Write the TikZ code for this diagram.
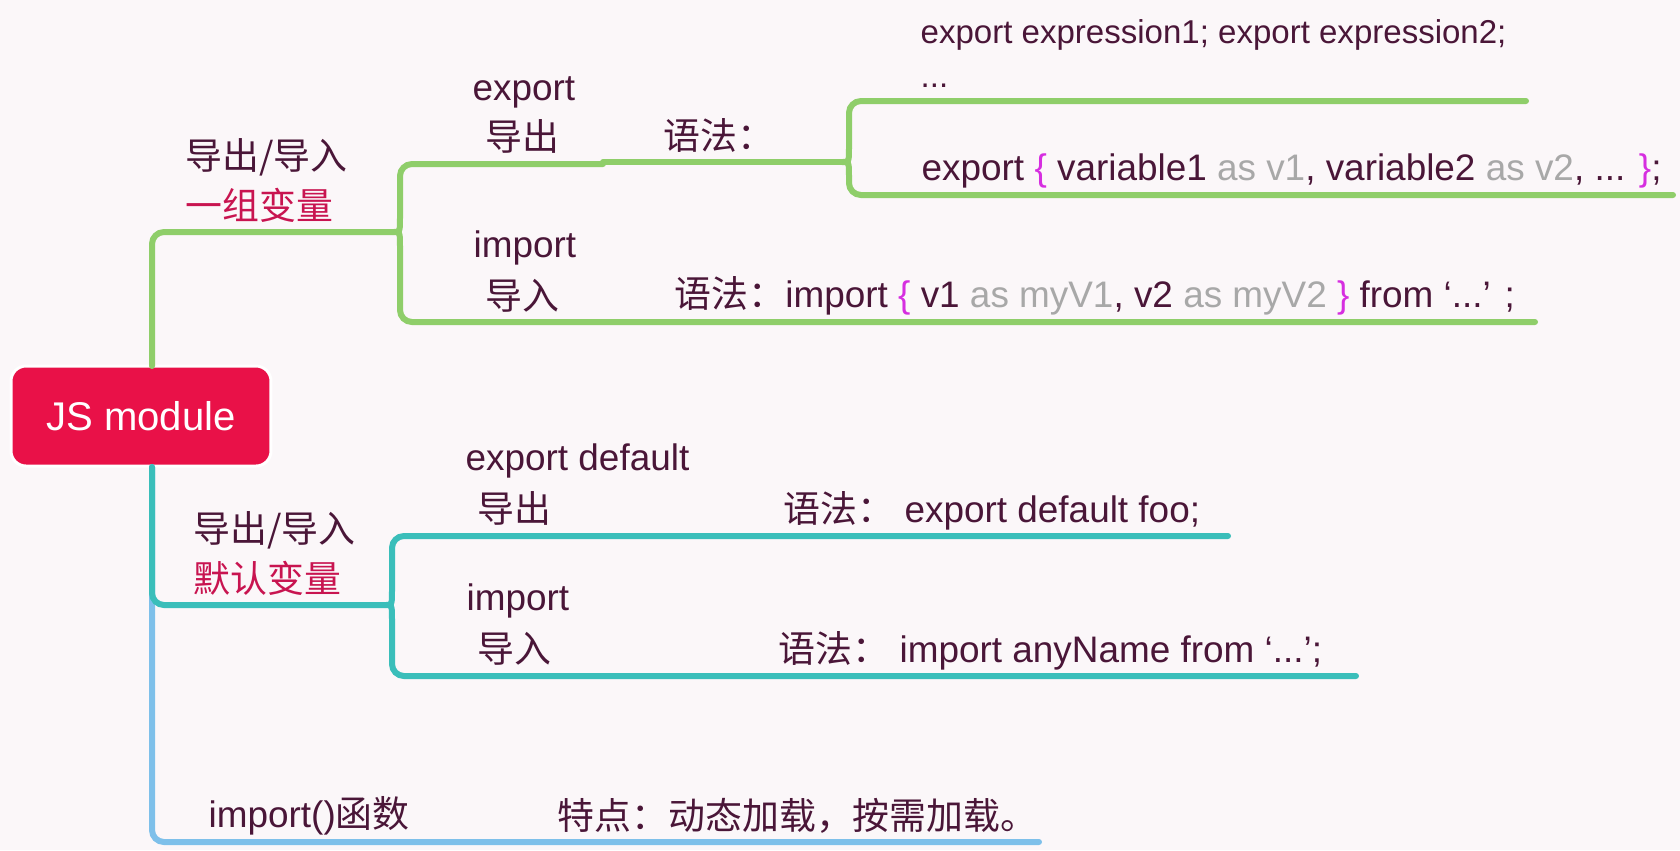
\documentclass[tikz,border=0pt]{standalone}
\usepackage{fontspec}
\setmainfont{Liberation Sans}
\newfontfamily\zhfont{Noto Sans CJK SC}
\usepackage{xcolor}

\definecolor{paper}{RGB}{251,247,249}
\definecolor{ink}{RGB}{74,22,56}
\definecolor{rose}{RGB}{200,20,80}
\definecolor{jsred}{RGB}{233,17,72}
\definecolor{leaf}{RGB}{143,206,106}
\definecolor{sea}{RGB}{58,190,186}
\definecolor{sky}{RGB}{126,192,234}
\definecolor{muted}{RGB}{168,168,168}
\definecolor{curly}{RGB}{214,46,224}

\newcommand\mapfont{\fontsize{10.5pt}{12pt}\selectfont}
\newcommand\smallmapfont{\fontsize{9.4pt}{11pt}\selectfont}
\newcommand\rootfont{\fontsize{11.4pt}{13pt}\selectfont}
\newcommand\zh[1]{{\zhfont #1}}
\newcommand\soft[1]{\textcolor{muted}{#1}}
\newcommand\curlytxt[1]{\textcolor{curly}{#1}}

\begin{document}
\begin{tikzpicture}[
    x=0.1mm, y=-0.1mm,
    txt/.style={anchor=base west, inner sep=0pt, text=ink, font=\mapfont},
    tag/.style={txt, text=rose},
    note/.style={txt, font=\smallmapfont},
    root/.style={rectangle, rounded corners=1.5mm, fill=jsred, draw=white, line width=0.3mm,
                 minimum width=26mm, minimum height=10mm, text=white, font=\rootfont},
    branch/.style={line width=0.6mm, line cap=round},
    leaf line/.style={branch, draw=leaf},
    sea line/.style={branch, draw=sea},
    sky line/.style={branch, draw=sky},
    elbow/.style={rounded corners=1.2mm},
]
    % Background
    \fill[paper] (0,0) rectangle (1680,850);

    % Root
    \node[root] (js) at (141,416) {JS module};

    % Junctions of the green branch
    \coordinate (gS) at (152,366);
    \coordinate (gJ) at (393,232);
    \coordinate (gJu) at (400,218);
    \coordinate (gJd) at (400,246);
    \coordinate (gE) at (603,164);
    \coordinate (gI) at (1535,322);
    \coordinate (gF) at (603,162);
    \coordinate (kJ) at (842,162);
    \coordinate (kJu) at (849,148);
    \coordinate (kJd) at (849,176);
    \coordinate (kT) at (1526,101);
    \coordinate (kB) at (1673,195);

    % Junctions of the teal branch
    \coordinate (tS) at (152,467);
    \coordinate (tJ) at (385,605);
    \coordinate (tJu) at (392,591);
    \coordinate (tJd) at (392,619);
    \coordinate (tT) at (1228,536);
    \coordinate (tB) at (1356,676);

    % End of the blue branch
    \coordinate (bE) at (1039,842);

    % Green branch
    \draw[leaf line, elbow] (gS) |- (gJ);
    \draw[leaf line, elbow] (gE) -| (gJu);
    \draw[leaf line] (gJu) .. controls (gJu |- gJ) .. (gJ) .. controls (gJd |- gJ) .. (gJd);
    \draw[leaf line, elbow] (gJd) |- (gI);
    \draw[leaf line] (gF) -- (kJ);
    \draw[leaf line, elbow] (kT) -| (kJu);
    \draw[leaf line] (kJu) .. controls (kJu |- kJ) .. (kJ) .. controls (kJd |- kJ) .. (kJd);
    \draw[leaf line, elbow] (kJd) |- (kB);

    % Blue branch
    \draw[sky line, elbow] (tS) |- (bE);

    % Teal branch
    \draw[sea line, elbow] (tS) |- (tJ);
    \draw[sea line, elbow] (tT) -| (tJu);
    \draw[sea line] (tJu) .. controls (tJu |- tJ) .. (tJ) .. controls (tJd |- tJ) .. (tJd);
    \draw[sea line, elbow] (tJd) |- (tB);

    % Labels: group export / import
    \node[txt] (grpA) at (185,169) {\zh{导出/导入}};
    \node[tag] (grpAsub) at (185,219) {\zh{一组变量}};
    \node[txt] (expA) at (472,100) {export};
    \node[txt] (expAzh) at (485,150) {\zh{导出}};
    \node[txt] (synA) at (663,149) {\zh{语法：}};
    \node[note] (exprA) at (920,43) {export expression1; export expression2;};
    \node[note] (exprAdots) at (920,87) {...};
    \node[txt] (exprB) at (921,180) {export \curlytxt{\{} variable1 \soft{as v1}, variable2 \soft{as v2}, ... \curlytxt{\}};};
    \node[txt] (impA) at (473,257) {import};
    \node[txt] (impAzh) at (485,309) {\zh{导入}};
    \node[txt] (impAsyn) at (674,307) {\zh{语法：}import \curlytxt{\{} v1 \soft{as myV1}, v2 \soft{as myV2} \curlytxt{\}} from ‘...’ ;};

    % Labels: default export / import
    \node[txt] (grpB) at (193,542) {\zh{导出/导入}};
    \node[tag] (grpBsub) at (193,592) {\zh{默认变量}};
    \node[txt] (expB) at (465,470) {export default};
    \node[txt] (expBzh) at (477,522) {\zh{导出}};
    \node[txt] (expBsyn) at (783,522) {\zh{语法：} export default foo;};
    \node[txt] (impB) at (466,610) {import};
    \node[txt] (impBzh) at (477,662) {\zh{导入}};
    \node[txt] (impBsyn) at (778,662) {\zh{语法：} import anyName from ‘...’;};

    % Labels: dynamic import
    \node[txt] (dyn) at (208,827) {import()\zh{函数}};
    \node[txt] (dynNote) at (557,829) {\zh{特点：动态加载，按需加载。}};
\end{tikzpicture}
\end{document}
